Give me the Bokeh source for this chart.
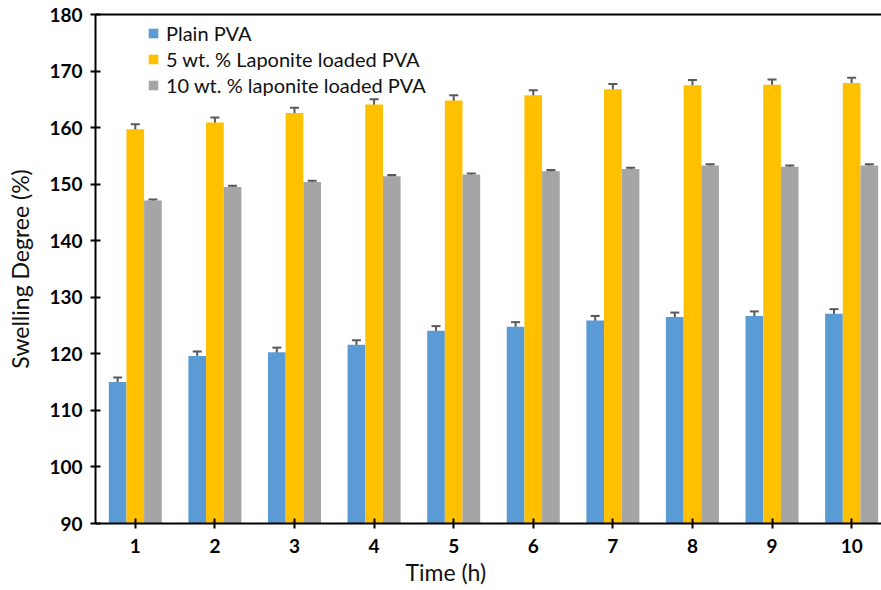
from bokeh.plotting import figure
from bokeh.models import (ColumnDataSource, Whisker, TeeHead, FixedTicker, LinearAxis,
                          Range1d, Title, Legend)
from bokeh.transform import dodge
from bokeh.embed import file_html
from bokeh.resources import INLINE

times = [1, 2, 3, 4, 5, 6, 7, 8, 9, 10]
plain_pva = [115.0, 119.6, 120.3, 121.6, 124.1, 124.8, 125.9, 126.5, 126.7, 127.1]
plain_err = [0.8, 0.8, 0.8, 0.8, 0.8, 0.8, 0.8, 0.8, 0.8, 0.8]
lap5 = [159.7, 160.9, 162.6, 164.1, 164.8, 165.7, 166.8, 167.5, 167.6, 167.9]
lap5_err = [0.9, 0.9, 0.9, 0.9, 0.9, 0.9, 0.9, 0.9, 0.9, 0.9]
lap10 = [147.1, 149.5, 150.4, 151.4, 151.7, 152.3, 152.7, 153.3, 153.1, 153.3]
lap10_err = [0.2, 0.2, 0.2, 0.2, 0.2, 0.2, 0.2, 0.2, 0.2, 0.2]
labels = ["Plain PVA", "5 wt. % Laponite loaded PVA", "10 wt. % laponite loaded PVA"]
colors = ["#5B9BD5", "#FFC000", "#A5A5A5"]
y_ticks = [90, 100, 110, 120, 130, 140, 150, 160, 170, 180]

FONT = "Lato"

src = ColumnDataSource(dict(
    x=times,
    p=plain_pva, p_lo=[v - e for v, e in zip(plain_pva, plain_err)], p_hi=[v + e for v, e in zip(plain_pva, plain_err)],
    a=lap5, a_lo=[v - e for v, e in zip(lap5, lap5_err)], a_hi=[v + e for v, e in zip(lap5, lap5_err)],
    b=lap10, b_lo=[v - e for v, e in zip(lap10, lap10_err)], b_hi=[v + e for v, e in zip(lap10, lap10_err)],
))

p = figure(width=881, height=590, output_backend="svg", toolbar_location=None,
           x_range=Range1d(0.5, 10.375), y_range=Range1d(90, 180),
           min_border_left=95, min_border_right=0, min_border_top=14, min_border_bottom=67)
p.outline_line_color = None
p.xgrid.visible = False
p.ygrid.visible = False

bw = 0.222
offs = [-bw, 0.0, bw]
keys = [("p", "p_lo", "p_hi"), ("a", "a_lo", "a_hi"), ("b", "b_lo", "b_hi")]
renderers = []
for (k, lo, hi), off, col, lab in zip(keys, offs, colors, labels):
    r = p.vbar(x=dodge("x", off), top=k, bottom=90, width=bw, source=src,
               fill_color=col, line_color=None)
    renderers.append((lab, [r]))
    w = Whisker(base=dodge("x", off), lower=lo, upper=hi, source=src,
                line_color="#595959", line_width=2,
                upper_head=TeeHead(size=9, line_color="#595959", line_width=2),
                lower_head=TeeHead(size=9, line_color="#595959", line_width=2))
    p.add_layout(w)

legend = Legend(items=renderers, location=(52, 426), background_fill_alpha=0,
                border_line_color=None, padding=0, margin=0, spacing=2,
                label_height=22, glyph_height=12, glyph_width=12, label_standoff=7,
                label_text_font=FONT, label_text_font_size="20px", label_text_color="#111111")
p.add_layout(legend)

p.xaxis.ticker = FixedTicker(ticks=times)
p.yaxis.ticker = FixedTicker(ticks=y_ticks)
for ax in (p.xaxis[0], p.yaxis[0]):
    ax.axis_line_width = 2
    ax.axis_line_color = "black"
    ax.major_tick_line_width = 2
    ax.major_tick_line_color = "black"
    ax.major_tick_in = 5
    ax.major_tick_out = 5
    ax.minor_tick_line_color = None
    ax.major_label_text_font = FONT
    ax.major_label_text_font_style = "bold"
    ax.major_label_text_font_size = "19px"
    ax.major_label_text_color = "black"
p.xaxis.major_label_standoff = 10
p.yaxis.major_label_standoff = 8

p.yaxis.axis_label = "Swelling Degree (%)"
p.yaxis.axis_label_text_font = FONT
p.yaxis.axis_label_text_font_style = "normal"
p.yaxis.axis_label_text_font_size = "23px"
p.yaxis.axis_label_standoff = 12
p.yaxis.axis_label_text_color = "#111111"

top_axis = LinearAxis(axis_line_width=2, axis_line_color="black",
                      major_tick_line_color=None, minor_tick_line_color=None,
                      major_label_text_font_size="0px", major_label_text_color=None)
p.add_layout(top_axis, "above")

xt = Title(text="Time (h)", align="left", offset=310, text_font=FONT,
           text_font_size="23px", text_font_style="normal", text_color="#111111",
           standoff=0)
p.add_layout(xt, "below")

open("out.html", "w").write(file_html(p, INLINE))
